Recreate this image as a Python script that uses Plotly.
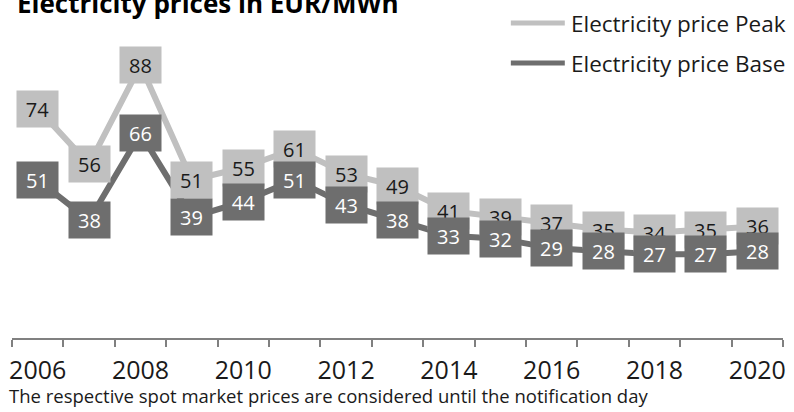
import plotly.graph_objects as go

years = list(range(2006, 2021))
peak = [74, 56, 88, 51, 55, 61, 53, 49, 41, 39, 37, 35, 34, 35, 36]
base = [51, 38, 66, 39, 44, 51, 43, 38, 33, 32, 29, 28, 27, 27, 28]
tick_years = [2006, 2008, 2010, 2012, 2014, 2016, 2018, 2020]

PEAK_COL = "#c0c0c0"
BASE_COL = "#6e6e6e"
FONT = "Open Sans"

fig = go.Figure()
fig.add_trace(go.Scatter(x=years, y=peak, mode="lines", name="Electricity price Peak",
                         line=dict(color=PEAK_COL, width=6), showlegend=False))
fig.add_trace(go.Scatter(x=years, y=base, mode="lines", name="Electricity price Base",
                         line=dict(color=BASE_COL, width=6), showlegend=False))

# value boxes
for series, bg, fg in [(peak, PEAK_COL, "#1a1a1a"), (base, BASE_COL, "white")]:
    for x, v in zip(years, series):
        fig.add_annotation(x=x, y=v, xref="x", yref="y", text=str(v), showarrow=False,
                           bgcolor=bg, width=41, height=36, borderpad=0,
                           font=dict(family=FONT, size=20, color=fg))

# legend drawn by hand
for yy, col, label in [(1.016, PEAK_COL, "Electricity price Peak"),
                       (0.887, BASE_COL, "Electricity price Base")]:
    fig.add_shape(type="line", xref="paper", yref="paper", x0=0.647, x1=0.717, y0=yy, y1=yy,
                  line=dict(color=col, width=5))
    fig.add_annotation(xref="paper", yref="paper", x=0.7225, y=yy, xanchor="left", yanchor="middle",
                       text=label, showarrow=False, font=dict(family=FONT, size=22.5, color="#1a1a1a"))

fig.add_annotation(xref="paper", yref="paper", x=0.004, y=1.016, xanchor="left", yanchor="bottom",
                   text="<b>Electricity prices in EUR/MWh</b>", showarrow=False,
                   font=dict(family=FONT, size=26, color="black"))
fig.add_annotation(xref="paper", yref="paper", x=-0.007, y=-0.14, xanchor="left", yanchor="top",
                   text="The respective spot market prices are considered until the notification day",
                   showarrow=False, font=dict(family=FONT, size=18.5, color="#1a1a1a"))

fig.update_layout(
    width=794, height=412,
    margin=dict(l=12, r=8, t=28, b=74),
    plot_bgcolor="white", paper_bgcolor="white",
    font=dict(family=FONT, color="#1a1a1a"),
    showlegend=False,
    xaxis=dict(range=[2005.5, 2020.5], tickvals=tick_years, ticks="", showgrid=False,
               zeroline=False, showline=True, linecolor="#808080", linewidth=1.5,
               tickfont=dict(size=25, color="#1a1a1a"), ticklabelstandoff=9,
               minor=dict(tick0=2005.5, dtick=1, ticks="outside", ticklen=7,
                          tickcolor="#808080", tickwidth=1.5, showgrid=False)),
    yaxis=dict(range=[0, 100], visible=False),
)

fig.write_html("out.html", config={"displayModeBar": False},
               post_script="document.body.style.margin='0';")
